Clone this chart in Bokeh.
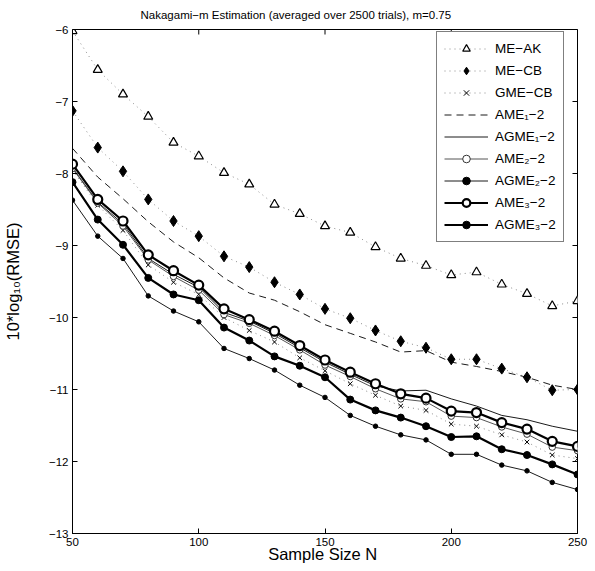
import math
from bokeh.plotting import figure
from bokeh.models import Range1d, LinearAxis, Legend, LegendItem, CustomJSTickFormatter, FixedTicker
from bokeh.embed import file_html
from bokeh.resources import INLINE

sample_size = [50, 60, 70, 80, 90, 100, 110, 120, 130, 140, 150, 160, 170, 180, 190, 200, 210, 220, 230, 240, 250]

me_ak = [-6.02, -6.56, -6.90, -7.21, -7.57, -7.76, -7.99, -8.15, -8.43, -8.56, -8.73, -8.82, -9.02, -9.18, -9.28, -9.41, -9.37, -9.54, -9.67, -9.84, -9.77]
me_cb = [-7.13, -7.64, -7.97, -8.36, -8.66, -8.87, -9.15, -9.30, -9.51, -9.68, -9.88, -10.01, -10.18, -10.33, -10.42, -10.58, -10.58, -10.71, -10.83, -11.01, -11.00]
gme_cb = [-7.95, -8.44, -8.79, -9.27, -9.51, -9.68, -10.00, -10.18, -10.34, -10.56, -10.74, -10.92, -11.08, -11.23, -11.29, -11.48, -11.51, -11.63, -11.73, -11.91, -11.96]
ame1 = [-7.65, -8.05, -8.35, -8.67, -8.95, -9.17, -9.45, -9.66, -9.76, -9.92, -10.10, -10.22, -10.34, -10.48, -10.46, -10.62, -10.68, -10.75, -10.83, -10.94, -11.00]
agme1 = [-7.92, -8.40, -8.70, -9.18, -9.40, -9.58, -9.93, -10.05, -10.22, -10.42, -10.62, -10.79, -10.95, -11.02, -11.01, -11.13, -11.23, -11.36, -11.42, -11.51, -11.58]
ame2 = [-7.93, -8.41, -8.73, -9.20, -9.43, -9.62, -9.96, -10.08, -10.25, -10.45, -10.66, -10.82, -10.99, -11.13, -11.17, -11.37, -11.39, -11.52, -11.62, -11.80, -11.85]
agme2 = [-8.37, -8.87, -9.18, -9.70, -9.91, -10.06, -10.43, -10.57, -10.73, -10.94, -11.11, -11.36, -11.51, -11.63, -11.70, -11.90, -11.90, -12.05, -12.13, -12.29, -12.39]
ame3 = [-7.87, -8.36, -8.66, -9.13, -9.35, -9.55, -9.88, -10.03, -10.19, -10.39, -10.59, -10.76, -10.92, -11.06, -11.12, -11.30, -11.32, -11.46, -11.55, -11.72, -11.79]
agme3 = [-8.12, -8.64, -8.99, -9.45, -9.68, -9.76, -10.14, -10.32, -10.54, -10.67, -10.83, -11.14, -11.29, -11.39, -11.51, -11.66, -11.65, -11.83, -11.91, -12.04, -12.18]

x_ticks = [50, 100, 150, 200, 250]
y_ticks = [-13, -12, -11, -10, -9, -8, -7, -6]

title_text = "Nakagami\u2212m Estimation (averaged over 2500 trials), m=0.75"
ylabel = "10*log\u2081\u2080(RMSE)"
xlabel = "Sample Size  N"
FONT = "Liberation Sans"

p = figure(width=595, height=571, output_backend="svg", toolbar_location=None,
           x_range=Range1d(50, 250), y_range=Range1d(-13, -6),
           min_border_left=71, min_border_right=18, min_border_top=29, min_border_bottom=38,
           x_axis_location=None, y_axis_location=None)
p.grid.visible = False
p.outline_line_color = "black"
p.outline_line_width = 1
p.background_fill_color = "white"
p.border_fill_color = "white"

p.title.text = title_text
p.title.align = "left"
p.title.offset = 68
p.title.vertical_align = "top"
p.title.text_font = FONT
p.title.text_font_size = "11.5px"
p.title.text_font_style = "normal"
p.title.text_color = "black"
p.title.standoff = 13

minus_fmt = CustomJSTickFormatter(code="return tick.toString().replace('-', '\u2212');")

def mk_axis(ticks, fmt=None):
    ax = LinearAxis(ticker=FixedTicker(ticks=ticks))
    ax.major_tick_in = 5
    ax.major_tick_out = 0
    ax.minor_tick_line_color = None
    ax.axis_line_color = "black"
    ax.major_tick_line_color = "black"
    ax.major_label_text_font = FONT
    ax.major_label_text_font_size = "11.5px"
    ax.major_label_text_color = "black"
    ax.major_label_standoff = 4
    ax.axis_label_text_font = FONT
    ax.axis_label_text_font_style = "normal"
    ax.axis_label_text_color = "black"
    ax.axis_label_text_font_size = "16.5px"
    if fmt is not None:
        ax.formatter = fmt
    return ax

xb = mk_axis(x_ticks)
xb.axis_label = xlabel
xb.axis_label_standoff = -4
yl = mk_axis(y_ticks, fmt=minus_fmt)
yl.axis_label = ylabel
yl.axis_label_standoff = 24
p.add_layout(xb, "below")
p.add_layout(yl, "left")

# mirrored inward ticks on the top and right edges (half of each dash is clipped by the frame)
p.scatter(x_ticks, [p.y_range.end] * len(x_ticks), marker="dash", angle=math.pi / 2,
          size=10, line_color="black", line_width=1)
p.scatter([p.x_range.end] * len(y_ticks), y_ticks, marker="dash",
          size=10, line_color="black", line_width=1)

items = []

def series(name, ys, line_kw, marker_kw=None):
    rs = [p.line(sample_size, ys, **line_kw)]
    if marker_kw is not None:
        rs.append(p.scatter(sample_size, ys, **marker_kw))
    items.append(LegendItem(label=name, renderers=rs))

dot_gray = "#8c8c8c"
series("ME\u2212AK", me_ak, dict(line_color=dot_gray, line_width=1, line_dash="1 4"),
       dict(marker="triangle", size=9, fill_color="white", line_color="black", line_width=1.2))
series("ME\u2212CB", me_cb, dict(line_color=dot_gray, line_width=1, line_dash="1 4"),
       dict(marker="diamond", size=11, fill_color="black", line_color="black"))
series("GME\u2212CB", gme_cb, dict(line_color=dot_gray, line_width=1, line_dash="1 4"),
       dict(marker="x", size=6.5, line_color="black", line_width=1))
series("AME\u2081\u22122", ame1, dict(line_color="black", line_width=0.9, line_dash="7 5"))
series("AGME\u2081\u22122", agme1, dict(line_color="black", line_width=0.9))
series("AME\u2082\u22122", ame2, dict(line_color="#555555", line_width=1),
       dict(marker="circle", size=6.5, fill_color="white", line_color="#333333", line_width=1))
series("AGME\u2082\u22122", agme2, dict(line_color="black", line_width=0.9),
       dict(marker="circle", size=4.5, fill_color="black", line_color="black"))
series("AME\u2083\u22122", ame3, dict(line_color="black", line_width=2.2),
       dict(marker="circle", size=9, fill_color="white", line_color="black", line_width=2.2))
series("AGME\u2083\u22122", agme3, dict(line_color="black", line_width=2.2),
       dict(marker="circle", size=7, fill_color="black", line_color="black"))

legend = Legend(items=items, location=(364, 291),
                label_text_font=FONT, label_text_font_size="13.5px", label_text_color="black",
                glyph_width=44, glyph_height=19, label_height=19, spacing=3,
                padding=7, margin=0, label_standoff=7,
                border_line_color="black", border_line_width=1,
                background_fill_color="white", background_fill_alpha=1)
p.add_layout(legend, "center")

open("out.html", "w").write(file_html(p, INLINE))
